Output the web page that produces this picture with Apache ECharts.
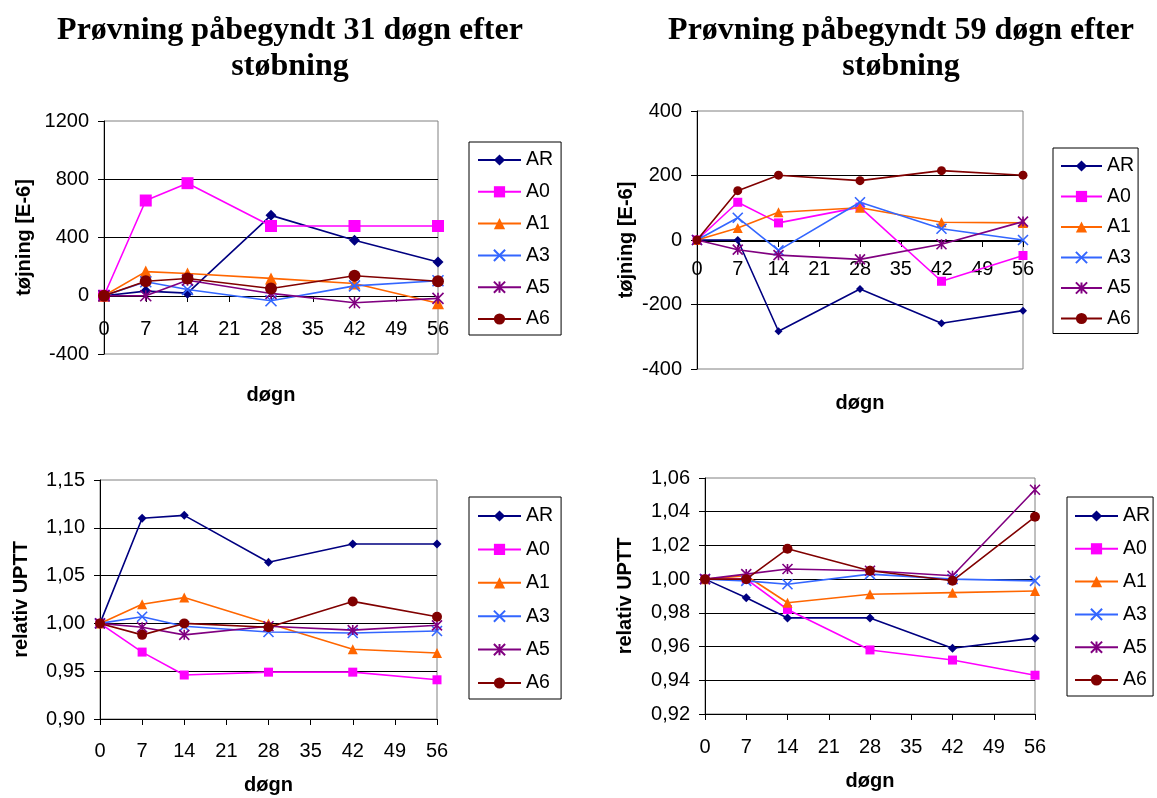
<!DOCTYPE html>
<html>
<head>
<meta charset="utf-8">
<script src="https://cdn.jsdelivr.net/npm/echarts@6/dist/echarts.min.js"></script>
<style>
html,body{margin:0;padding:0;background:#fff;}
#chart{width:1157px;height:798px;}
</style>
</head>
<body>
<div id="chart"></div>
<script>
// ---- data ----
const days = [0, 7, 14, 28, 42, 56];
const seriesNames = ['AR', 'A0', 'A1', 'A3', 'A5', 'A6'];

// Panel 1: strain, start 31 days
const strain31_AR = [0, 32, 18, 552, 381, 232];
const strain31_A0 = [0, 654, 773, 479, 479, 479];
const strain31_A1 = [0, 166, 153, 119, 84, -52];
const strain31_A3 = [0, 96, 43, -34, 68, 103];
const strain31_A5 = [0, 0, 107, 16, -48, -18];
const strain31_A6 = [0, 100, 118, 50, 137, 100];

// Panel 2: strain, start 59 days
const strain59_AR = [0, 0, -283, -152, -258, -219];
const strain59_A0 = [0, 117, 53, 102, -128, -48];
const strain59_A1 = [0, 37, 86, 100, 55, 53];
const strain59_A3 = [0, 69, -32, 117, 35, 0];
const strain59_A5 = [0, -30, -47, -60, -13, 57];
const strain59_A6 = [0, 153, 201, 184, 215, 201];

// Panel 3: relative UPTT, start 31 days
const uptt31_AR = [1.000, 1.110, 1.113, 1.064, 1.083, 1.083];
const uptt31_A0 = [1.000, 0.970, 0.946, 0.949, 0.949, 0.941];
const uptt31_A1 = [1.000, 1.020, 1.027, 1.000, 0.973, 0.969];
const uptt31_A3 = [1.000, 1.007, 0.997, 0.991, 0.990, 0.992];
const uptt31_A5 = [1.000, 0.996, 0.988, 0.997, 0.993, 0.998];
const uptt31_A6 = [1.000, 0.988, 1.000, 0.996, 1.023, 1.007];

// Panel 4: relative UPTT, start 59 days
const uptt59_AR = [1.000, 0.989, 0.977, 0.977, 0.959, 0.965];
const uptt59_A0 = [1.000, 1.000, 0.982, 0.958, 0.952, 0.943];
const uptt59_A1 = [1.000, 1.002, 0.986, 0.991, 0.992, 0.993];
const uptt59_A3 = [1.000, 0.999, 0.997, 1.003, 1.000, 0.999];
const uptt59_A5 = [1.000, 1.003, 1.006, 1.005, 1.002, 1.053];
const uptt59_A6 = [1.000, 1.000, 1.018, 1.005, 0.999, 1.037];

const title31 = 'Prøvning påbegyndt 31 døgn efter\nstøbning';
const title59 = 'Prøvning påbegyndt 59 døgn efter\nstøbning';
const yName1 = 'tøjning [E-6]';
const yName2 = 'relativ UPTT';
const xName = 'døgn';

// ---- styling ----
const colors = ['#000080', '#FF00FF', '#FF6600', '#3366FF', '#800080', '#800000'];
const symbols = ['diamond', 'rect', 'triangle',
  'path://M0,0L10,10M10,0L0,10',
  'path://M0,0L10,10M10,0L0,10M5,0L5,10',
  'circle'];
const FONT = 'Liberation Sans, Arial, sans-serif';
const TICK_FS = 20, NAME_FS = 20, LEG_FS = 19.5;

const panels = [
  {data: [strain31_AR, strain31_A0, strain31_A1, strain31_A3, strain31_A5, strain31_A6],
   grid: {left: 104, top: 121, width: 334, height: 233},
   y: {min: -400, max: 1200, interval: 400, name: yName1, nameGap: 70, dec: 0},
   xOffset: -58, xLabelMargin: 23, xNameGap: 89, sizes: [11, 12, 12, 11, 11, 12],
   legend: {left: 469, top: 142, gap: 11.8, w: 43, pad: [8, 8, 6, 8]}},
  {data: [strain59_AR, strain59_A0, strain59_A1, strain59_A3, strain59_A5, strain59_A6],
   grid: {left: 697, top: 111, width: 326, height: 258},
   y: {min: -400, max: 400, interval: 200, name: yName1, nameGap: 61, dec: 0},
   xOffset: -128, xLabelMargin: 18, xNameGap: 152, sizes: [8, 9, 10, 10, 10, 9],
   legend: {left: 1053, top: 148, gap: 10.5, w: 41, pad: [8, 4, 5, 7]}},
  {data: [uptt31_AR, uptt31_A0, uptt31_A1, uptt31_A3, uptt31_A5, uptt31_A6],
   grid: {left: 100, top: 480, width: 337, height: 239},
   y: {min: 0.90, max: 1.15, interval: 0.05, name: yName2, nameGap: 69, dec: 2},
   xOffset: 0, xLabelMargin: 22, xNameGap: 56, sizes: [9, 9, 10, 10, 10, 10],
   legend: {left: 469, top: 497, gap: 13.4, w: 43, pad: [9, 8, 6, 8]}},
  {data: [uptt59_AR, uptt59_A0, uptt59_A1, uptt59_A3, uptt59_A5, uptt59_A6],
   grid: {left: 705, top: 478, width: 330, height: 236},
   y: {min: 0.92, max: 1.06, interval: 0.02, name: yName2, nameGap: 70, dec: 2},
   xOffset: 0, xLabelMargin: 23, xNameGap: 57, sizes: [9, 9, 10, 10, 10, 10],
   legend: {left: 1067, top: 497, gap: 12.8, w: 43, pad: [9, 3, 6, 7]}}
];

const titleStyle = {fontFamily: 'Liberation Serif, Times New Roman, serif', fontWeight: 'bold', fontSize: 32, lineHeight: 36, color: '#000'};
const option = {
  backgroundColor: '#fff',
  animation: false,
  title: [
    {text: title31, left: 285, top: 8, textAlign: 'center', textStyle: titleStyle},
    {text: title59, left: 896, top: 8, textAlign: 'center', textStyle: titleStyle}
  ],
  grid: [], xAxis: [], yAxis: [], legend: [], series: []
};

panels.forEach((p, pi) => {
  option.grid.push(Object.assign({show: true, borderColor: '#808080', borderWidth: 1, backgroundColor: '#fff'}, p.grid));
  option.xAxis.push({
    type: 'value', gridIndex: pi, min: 0, max: 56, interval: 7,
    position: 'bottom', offset: p.xOffset,
    name: xName, nameLocation: 'middle', nameGap: p.xNameGap,
    nameTextStyle: {fontFamily: FONT, fontWeight: 'bold', fontSize: NAME_FS, color: '#000'},
    axisLine: {show: true, onZero: false, lineStyle: {color: '#000', width: 1}},
    axisTick: {show: true, inside: false, length: 6, lineStyle: {color: '#000'}},
    axisLabel: {margin: p.xLabelMargin, fontFamily: FONT, fontSize: TICK_FS, color: '#000',
      formatter: v => String(v)},
    splitLine: {show: false}
  });
  option.yAxis.push({
    type: 'value', gridIndex: pi, min: p.y.min, max: p.y.max, interval: p.y.interval,
    name: p.y.name, nameLocation: 'middle', nameGap: p.y.nameGap, nameRotate: 90,
    nameTextStyle: {fontFamily: FONT, fontWeight: 'bold', fontSize: NAME_FS, color: '#000'},
    axisLine: {show: true, onZero: false, lineStyle: {color: '#000', width: 1}},
    axisTick: {show: true, inside: false, length: 6, lineStyle: {color: '#000'}},
    axisLabel: {margin: 15, fontFamily: FONT, fontSize: TICK_FS, color: '#000',
      formatter: v => p.y.dec ? v.toFixed(p.y.dec).replace('.', ',') : String(Math.round(v))},
    splitLine: {show: true, showMinLine: false, showMaxLine: false, lineStyle: {color: '#000', width: 1}}
  });
  option.legend.push({
    data: seriesNames.map(n => n + '\u200b'.repeat(pi)),
    orient: 'vertical', left: p.legend.left, top: p.legend.top,
    itemWidth: p.legend.w, itemHeight: 14, itemGap: p.legend.gap,
    padding: p.legend.pad, borderColor: '#000', borderWidth: 1, backgroundColor: '#fff',
    textStyle: {fontFamily: FONT, fontSize: LEG_FS, color: '#000', lineHeight: 16},
    formatter: n => n.replace(/\u200b/g, '')
  });
  p.data.forEach((vals, si) => {
    const isStroke = si === 3 || si === 4;
    option.series.push({
      type: 'line', name: seriesNames[si] + '\u200b'.repeat(pi),
      xAxisIndex: pi, yAxisIndex: pi,
      data: days.map((d, i) => [d, vals[i]]),
      symbol: symbols[si], symbolSize: p.sizes[si], symbolKeepAspect: true,
      showAllSymbol: true,
      lineStyle: {color: colors[si], width: 1.6},
      itemStyle: isStroke ? {color: colors[si], borderColor: colors[si], borderWidth: 1.6}
                          : {color: colors[si], borderWidth: 0},
      emphasis: {disabled: true},
      z: 2 + si
    });
  });
});

const chart = echarts.init(document.getElementById('chart'), null, {renderer: 'canvas'});
chart.setOption(option);
</script>
</body>
</html>
